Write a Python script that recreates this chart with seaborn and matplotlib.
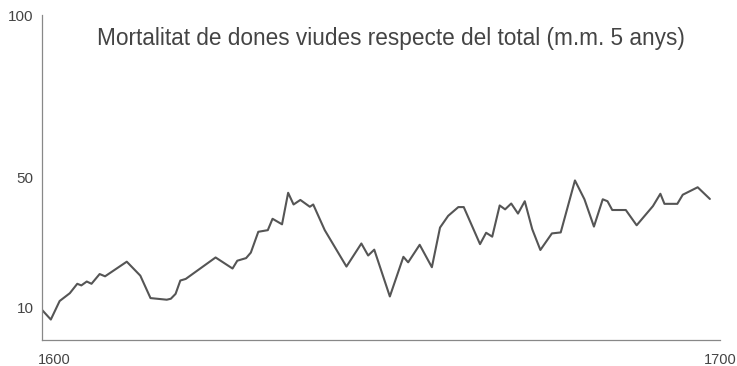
import matplotlib
matplotlib.use("Agg")
import matplotlib.pyplot as plt
import matplotlib.transforms as mtransforms
import pandas as pd
import seaborn as sns

# vertices (year, % of total)
years = [
    1599.9, 1601.3, 1602.6, 1604.1, 1605.2, 1605.8, 1606.6, 1607.3, 1608.5, 1609.3,
    1612.5, 1614.5, 1616.0, 1618.4, 1619.0, 1619.7, 1620.4, 1621.2, 1625.6, 1628.1,
    1628.8, 1630.1, 1630.8, 1631.9, 1633.3, 1634.0, 1635.4, 1636.3, 1637.1, 1638.1,
    1639.5, 1640.0, 1641.7, 1644.9, 1647.1, 1648.1, 1649.0, 1651.3, 1653.3, 1654.0,
    1655.7, 1657.5, 1658.7, 1659.9, 1661.4, 1662.2, 1664.6, 1665.5, 1666.4, 1667.5,
    1668.3, 1669.2, 1670.2, 1671.2, 1672.3, 1673.5, 1675.2, 1676.5, 1678.6, 1680.0,
    1681.4, 1682.7, 1683.4, 1684.1, 1686.1, 1687.7, 1690.1, 1691.2, 1691.8, 1693.7,
    1694.5, 1696.7, 1698.5,
]
widows_share = [
    9.5, 6.3, 12.0, 14.4, 17.3, 16.8, 18.0, 17.3, 20.3, 19.6,
    24.1, 19.8, 12.9, 12.4, 12.7, 14.2, 18.3, 18.8, 25.4, 22.0,
    24.4, 25.2, 26.9, 33.3, 33.8, 37.3, 35.6, 45.3, 41.7, 43.1,
    41.0, 41.7, 33.8, 22.6, 29.7, 26.0, 27.8, 13.4, 25.6, 23.9,
    29.3, 22.4, 34.6, 38.2, 40.9, 40.9, 29.5, 33.0, 31.8, 41.4,
    40.2, 42.0, 38.9, 42.7, 34.1, 27.7, 32.8, 33.1, 49.1, 43.3,
    34.9, 43.3, 42.7, 40.0, 40.0, 35.3, 41.2, 45.0, 41.9, 41.9,
    44.7, 47.0, 43.4,
]
y_ticks = [10, 50, 100]
x_ticks = [1600, 1700]
title = "Mortalitat de dones viudes respecte del total (m.m. 5 anys)"

df = pd.DataFrame({"year": years, "share": widows_share})

sns.set_style("white")
plt.rcParams["font.family"] = ["Liberation Sans", "DejaVu Sans"]

fig = plt.figure(figsize=(7.37, 3.66), dpi=100)
ax = fig.add_axes([0.057, 0.071, 0.920, 0.888])

sns.lineplot(data=df, x="year", y="share", ax=ax, color="#555555", linewidth=1.5, sort=False)

ax.set_xlim(1600, 1700)
ax.set_ylim(0, 100)
ax.set_xlabel("")
ax.set_ylabel("")
ax.set_yticks(y_ticks)
ax.set_xticks(x_ticks)
ax.set_xticklabels([str(v) for v in x_ticks])
ax.tick_params(axis="y", direction="in", length=5, width=0.8, color="#888888",
               labelsize=11, labelcolor="#444444", pad=6)
ax.tick_params(axis="x", length=0, labelsize=10.5, labelcolor="#444444", pad=9)

# the 1600 label sits a little right of the axis corner in the original
first = ax.get_xticklabels()[0]
first.set_transform(first.get_transform() + mtransforms.ScaledTranslation(0.12, 0, fig.dpi_scale_trans))

for side in ["top", "right"]:
    ax.spines[side].set_visible(False)
for side in ["left", "bottom"]:
    ax.spines[side].set_color("#888888")
    ax.spines[side].set_linewidth(0.9)

ax.text(0.081, 0.928, title, transform=ax.transAxes, ha="left", va="center",
        fontsize=16.25, color="#444444")

fig.savefig("out.png", dpi=100)
plt.close(fig)
